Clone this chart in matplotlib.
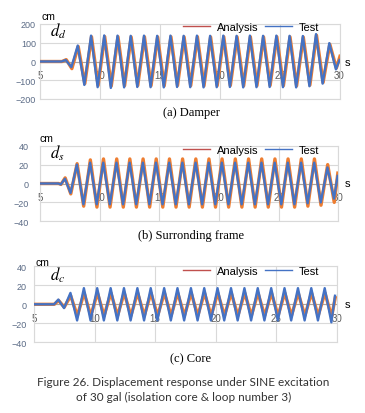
import matplotlib
matplotlib.use('Agg')
import matplotlib.pyplot as plt
import numpy as np

plt.rcParams['font.family'] = ['Liberation Sans', 'DejaVu Sans']
plt.rcParams['mathtext.fontset'] = 'stix'

# ---- data (times of turning points, s) ----
t_ext = [5.0, 6.6, 6.8, 7.15, 7.62,
         8.15, 8.7, 9.26, 9.81, 10.36, 10.91, 11.47, 12.02, 12.57, 13.12,
         13.68, 14.23, 14.78, 15.33, 15.89, 16.44, 16.99, 17.54, 18.1, 18.65,
         19.2, 19.75, 20.3, 20.85, 21.41, 21.96, 22.52, 23.07, 23.62, 24.17,
         24.73, 25.28, 25.83, 26.38, 26.94, 27.49, 28.04, 28.59, 29.15, 29.7,
         30.0]

# (a) damper displacement, cm
damper_test = [0, 0, 0, 8, -30,
               85, -125, 138, -137, 139, -141, 138, -138, 137, -136,
               138, -137, 137, -138, 138, -136, 137, -137, 138, -138,
               137, -137, 138, -136, 137, -138, 138, -137, 137, -136,
               138, -137, 137, -138, 136, -132, 146, -118, 98, -42,
               8]
damper_analysis = [0, 0, 0, 10, -38,
                   80, -118, 132, -128, 133, -131, 132, -129, 131, -128,
                   132, -129, 131, -130, 132, -128, 131, -129, 132, -130,
                   131, -129, 132, -128, 131, -130, 132, -129, 131, -128,
                   132, -129, 131, -130, 130, -126, 140, -112, 92, -35,
                   28]

# (b) surrounding frame displacement, cm
frame_test = [0, 0, -1, 5, -10,
              20, -22, 22, -22, 22, -22, 22, -22, 22, -22,
              22, -22, 22, -22, 22, -22, 22, -22, 22, -22,
              22, -22, 22, -22, 22, -22, 22, -22, 22, -22,
              22, -22, 22, -22, 22, -21, 22, -20, 17, -16,
              8]
frame_analysis = [0, 0, -1, 6, -11,
                  21, -24, 25, -25, 26, -25, 26, -25, 26, -25,
                  26, -25, 26, -25, 26, -25, 26, -25, 26, -25,
                  26, -25, 26, -25, 26, -25, 26, -25, 26, -25,
                  26, -25, 26, -25, 26, -24, 26, -23, 20, -20,
                  11]

# (c) core displacement, cm
core_test = [0, 0, 0, 5, -4,
             12, -17, 17, -17, 17, -17, 17, -17, 17, -17,
             17, -17, 17, -17, 17, -17, 17, -17, 17, -17,
             17, -17, 17, -17, 17, -17, 17, -17, 17, -17,
             17, -17, 17, -17, 17, -17, 17, -17, 17, -19,
             9]
core_analysis = [0, 0, 0, 4, -3,
                 9, -12, 12, -12, 12, -12, 12, -12, 12, -12,
                 12, -12, 12, -12, 12, -12, 12, -12, 12, -12,
                 12, -12, 12, -12, 12, -12, 12, -12, 12, -12,
                 12, -12, 12, -12, 12, -12, 12, -12, 12, -13,
                 7]

x_ticks = [5, 10, 15, 20, 25, 30]
damper_yticks = [-200, -100, 0, 100, 200]
small_yticks = [-40, -20, 0, 20, 40]

# ---- layout (pixels) ----
W, H = 365, 414
fig = plt.figure(figsize=(W / 100, H / 100), dpi=100)


def fx(x):
    return x / W


def fy(y):
    return 1 - y / H


BLUE = '#4472C4'
ORANGE = '#ED7D31'
RED = '#C0504D'
GRID = '#d9d9d9'
TICK = '#5a6a85'

panels = [
    dict(box=(40, 25, 339.5, 100), lim=200, yticks=damper_yticks,
         test=damper_test, ana=damper_analysis, shift=0.0, lag=0.04,
         sym='$d_d$', sym_y=31, cm=(41, 17), title='(a) Damper',
         title_y=113, leg_y=28.3, ypad=3),
    dict(box=(40, 146.7, 338.3, 222.3), lim=40, yticks=small_yticks,
         test=frame_test, ana=frame_analysis, shift=-0.06, lag=0.02,
         sym='$d_s$', sym_y=153, cm=(40, 139.5), title='(b) Surronding frame',
         title_y=236, leg_y=150.7, ypad=8),
    dict(box=(34, 267.3, 336.7, 343.3), lim=40, yticks=small_yticks,
         test=core_test, ana=core_analysis, shift=-0.14, lag=0.02,
         sym='$d_c$', sym_y=275, cm=(35, 262.5), title='(c) Core',
         title_y=359, leg_y=271.7, ypad=5),
]

t = np.array(t_ext)
for p in panels:
    left, top, right, bottom = p['box']
    ax = fig.add_axes([fx(left), fy(bottom), (right - left) / W,
                       (bottom - top) / H])
    ax.plot(t + p['shift'] + p['lag'], p['ana'], color=ORANGE, lw=2.4,
            solid_joinstyle='round', zorder=3, label='Analysis')
    ax.plot(t + p['shift'], p['test'], color=BLUE, lw=1.7,
            solid_joinstyle='round', zorder=4, label='Test')
    ax.set_xlim(5, 30)
    ax.set_ylim(-p['lim'], p['lim'])
    ax.set_xticks(x_ticks)
    ax.set_xticklabels([])
    ax.set_yticks(p['yticks'])
    ax.tick_params(length=0)
    ax.tick_params(axis='y', labelsize=6.5, labelcolor=TICK, pad=p['ypad'])
    ax.grid(True, color=GRID, lw=0.8)
    ax.set_axisbelow(True)
    for s in ax.spines.values():
        s.set_color(GRID)
        s.set_linewidth(0.8)
    ax.axhline(0, color='#a6a6a6', lw=0.8, zorder=2)
    for x in x_ticks:
        ax.annotate(str(x), (x, 0), xytext=(0, -9.7),
                    textcoords='offset points', ha='center', va='center',
                    fontsize=7, color='#595959', zorder=2.5)

    # legend: red line for Analysis, blue for Test
    h_ana = plt.Line2D([], [], color=RED, lw=1.0)
    h_test = plt.Line2D([], [], color=BLUE, lw=1.0)
    fig.legend([h_ana, h_test], ['Analysis', 'Test'], ncol=2,
               loc='center', bbox_to_anchor=(fx(251), fy(p['leg_y'])),
               frameon=False, fontsize=8, handlelength=2.45,
               handletextpad=0.6, columnspacing=0.55, borderpad=0,
               borderaxespad=0)

    fig.text(fx(p['cm'][0]), fy(p['cm'][1]), 'cm', fontsize=7.5,
             ha='left', va='center')
    fig.text(fx(347), fy((top + bottom) / 2), 's', fontsize=8,
             ha='center', va='center')
    fig.text(fx(50), fy(p['sym_y']), p['sym'], fontsize=12,
             ha='left', va='center')
    fig.text(fx(191), fy(p['title_y']), p['title'], fontsize=9,
             family='Liberation Serif', ha='center', va='center')

fig.text(fx(183.5), fy(383), 'Figure 26. Displacement response under SINE '
         'excitation', fontsize=8.5, family='Lato', color='#333333',
         ha='center', va='center')
fig.text(fx(183.5), fy(397.5), 'of 30 gal (isolation core & loop number 3)',
         fontsize=8.5, family='Lato', color='#333333',
         ha='center', va='center')

fig.savefig('out.png', dpi=100)
